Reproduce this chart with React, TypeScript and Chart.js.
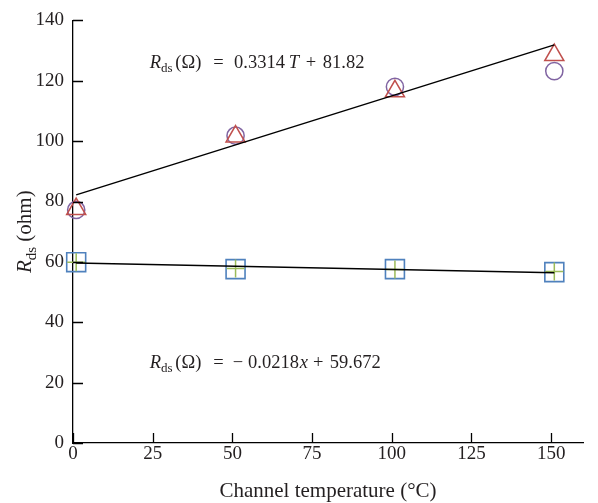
import React, { useEffect, useRef } from 'react';
import { Chart, registerables } from 'chart.js';

Chart.register(...registerables);

// ---- data ----
const temperatures = [1, 51, 101, 151];
const rdsTriangle = [77.5, 101.5, 116.5, 128.5];
const rdsCircle = [77.2, 101.8, 118.0, 123.2];
const rdsSquare = [59.9, 57.6, 57.6, 56.6];
const rdsPlus = [59.9, 57.8, 57.5, 56.8];
const fitX = [1, 151];
const fitUpper = [82.2, 131.9];
const fitLower = [59.65, 56.4];
const xTickValues = [0, 25, 50, 75, 100, 125, 150];
const yTickValues = [0, 20, 40, 60, 80, 100, 120, 140];

const FONT = '"Liberation Serif", "DejaVu Serif", serif';
const TEXT = '#231f20';

// at = horizontal offset (px) of a piece from the start of the formula (math spacing)
type Part = { t: string; italic?: boolean; sub?: boolean; at?: number };

const upperEq: Part[] = [
  { t: 'R', italic: true },
  { t: 'ds', sub: true },
  { t: '(Ω)', at: 25.5 },
  { t: '=', at: 63.5 },
  { t: '0.3314', at: 84.3 },
  { t: 'T', italic: true, at: 139 },
  { t: '+', at: 156 },
  { t: '81.82', at: 173 },
];
const lowerEq: Part[] = [
  { t: 'R', italic: true },
  { t: 'ds', sub: true },
  { t: '(Ω)', at: 25.5 },
  { t: '=', at: 63.5 },
  { t: '−', at: 83 },
  { t: '0.0218', at: 98.3 },
  { t: 'x', italic: true, at: 150 },
  { t: '+', at: 163.3 },
  { t: '59.672', at: 180 },
];
const yTitle: Part[] = [
  { t: 'R', italic: true },
  { t: 'ds', sub: true },
  { t: ' (ohm)' },
];
const xTitle: Part[] = [{ t: 'Channel temperature (°C)' }];

function fontFor(p: Part, size: number) {
  const s = p.sub ? Math.round(size * 0.72) : size;
  return `${p.italic ? 'italic ' : ''}${s}px ${FONT}`;
}

function drawRich(ctx: CanvasRenderingContext2D, parts: Part[], x: number, y: number, size: number, align: 'left' | 'center') {
  ctx.save();
  ctx.fillStyle = TEXT;
  ctx.textBaseline = 'alphabetic';
  ctx.textAlign = 'left';
  const widths = parts.map((p) => {
    ctx.font = fontFor(p, size);
    return ctx.measureText(p.t).width;
  });
  const total = widths.reduce((a, b) => a + b, 0);
  const x0 = align === 'center' ? x - total / 2 : x;
  let cx = x0;
  parts.forEach((p, i) => {
    ctx.font = fontFor(p, size);
    if (p.at !== undefined) cx = x0 + p.at;
    ctx.fillText(p.t, cx, y + (p.sub ? size * 0.22 : 0));
    cx += widths[i];
  });
  ctx.restore();
}

const decorPlugin = {
  id: 'decor',
  afterDatasetsDraw(chart: any) {
    const ctx: CanvasRenderingContext2D = chart.ctx;
    const xs = chart.scales.x;
    const ys = chart.scales.y;
    const area = chart.chartArea;
    ctx.save();
    ctx.strokeStyle = '#000';
    ctx.lineWidth = 1.3;
    ctx.beginPath();
    xTickValues.forEach((v) => {
      const px = Math.round(xs.getPixelForValue(v)) + 0.5;
      ctx.moveTo(px, area.bottom);
      ctx.lineTo(px, area.bottom - 10);
    });
    yTickValues.forEach((v) => {
      const py = Math.round(ys.getPixelForValue(v)) + 0.5;
      ctx.moveTo(area.left, py);
      ctx.lineTo(area.left + 10, py);
    });
    ctx.stroke();
    ctx.restore();

    drawRich(ctx, upperEq, xs.getPixelForValue(24.1), ys.getPixelForValue(124.2), 18.5, 'left');
    drawRich(ctx, lowerEq, xs.getPixelForValue(24.1), ys.getPixelForValue(25.0), 18.5, 'left');
    drawRich(ctx, xTitle, (area.left + area.right) / 2, 497, 21, 'center');
    ctx.save();
    ctx.translate(31, (area.top + area.bottom) / 2);
    ctx.rotate(-Math.PI / 2);
    drawRich(ctx, yTitle, 0, 0, 21, 'center');
    ctx.restore();
  },
};

export default function App() {
  const ref = useRef<HTMLCanvasElement | null>(null);
  useEffect(() => {
    if (!ref.current) return;
    const pts = (ys: number[]) => temperatures.map((t, i) => ({ x: t, y: ys[i] }));
    const line = (ys: number[]) => fitX.map((t, i) => ({ x: t, y: ys[i] }));
    const chart = new Chart(ref.current, {
      type: 'scatter',
      data: {
        datasets: [
          { data: line(fitUpper), showLine: true, borderColor: '#000', borderWidth: 1.5, pointRadius: 0, clip: false },
          { data: line(fitLower), showLine: true, borderColor: '#000', borderWidth: 1.5, pointRadius: 0, clip: false },
          { data: pts(rdsPlus), pointStyle: 'cross', pointRadius: 9, borderColor: '#9bbb59', backgroundColor: 'transparent', pointBorderWidth: 1.5, clip: false },
          { data: pts(rdsSquare), pointStyle: 'rect', pointRadius: 13.4, borderColor: '#4f81bd', backgroundColor: 'transparent', pointBorderWidth: 1.6, clip: false },
          { data: pts(rdsTriangle), pointStyle: 'triangle', pointRadius: 11, borderColor: '#c0504d', backgroundColor: 'transparent', pointBorderWidth: 1.5, clip: false },
          { data: pts(rdsCircle), pointStyle: 'circle', pointRadius: 8.6, borderColor: '#8064a2', backgroundColor: 'transparent', pointBorderWidth: 1.5, clip: false },
        ],
      } as any,
      options: {
        responsive: false,
        animation: false,
        layout: { padding: { left: 0, top: 17, right: 1, bottom: 0 } },
        plugins: { legend: { display: false }, tooltip: { enabled: false } },
        scales: {
          x: {
            type: 'linear',
            min: 0,
            max: 160,
            grid: { display: false, drawTicks: false },
            border: { display: true, color: '#000', width: 1.3 },
            ticks: {
              stepSize: 25,
              includeBounds: false,
              padding: 0,
              color: TEXT,
              font: { family: FONT, size: 19 },
              maxRotation: 0,
            },
            afterFit: (s: any) => { s.height = 60; },
          },
          y: {
            type: 'linear',
            min: 0,
            max: 140,
            grid: { display: false, drawTicks: false },
            border: { display: true, color: '#000', width: 1.3 },
            ticks: {
              stepSize: 20,
              padding: 9,
              color: TEXT,
              font: { family: FONT, size: 19 },
            },
            afterFit: (s: any) => { s.width = 73; },
          },
        },
      } as any,
      plugins: [decorPlugin],
    });
    return () => chart.destroy();
  }, []);
  return (
    <div style={{ position: 'fixed', left: 0, top: 0, width: 598, height: 503, background: '#fff' }}>
      <canvas ref={ref} width={598} height={503} />
    </div>
  );
}
